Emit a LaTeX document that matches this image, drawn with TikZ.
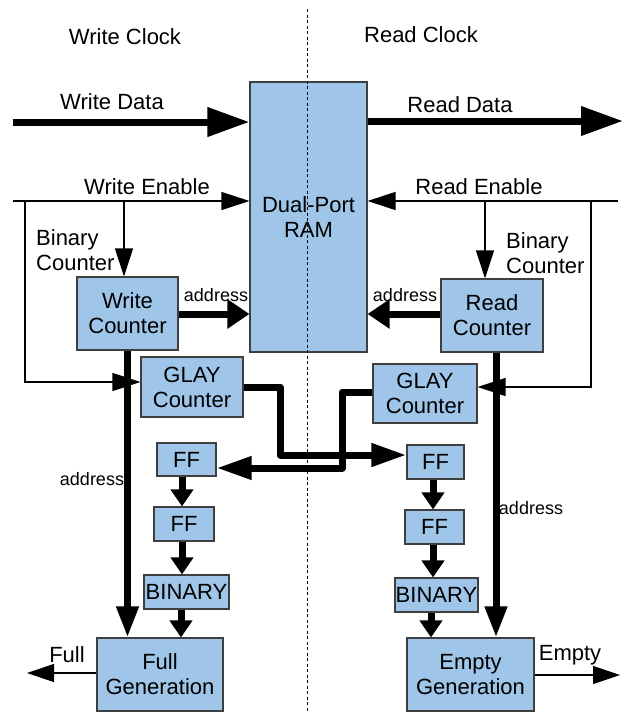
\documentclass[tikz,border=0pt]{standalone}
\usepackage{fontspec}
\setmainfont{Liberation Sans}
\usetikzlibrary{arrows.meta}
\definecolor{boxfill}{HTML}{9FC5E8}
\definecolor{boxline}{HTML}{3F3F3F}
\newcommand{\mainfnt}{\fontsize{22}{25}\selectfont}
\newcommand{\smallfnt}{\fontsize{18}{21}\selectfont}

\begin{document}
\begin{tikzpicture}[x=1pt,y=-1pt,
  box/.style={draw=boxline, fill=boxfill, line width=1.1pt, inner sep=0pt,
              align=center, font=\mainfnt},
  lbl/.style={inner sep=0pt, align=center, font=\mainfnt},
  lblleft/.style={inner sep=0pt, align=left, font=\mainfnt, anchor=west},
  small/.style={inner sep=0pt, font=\smallfnt},
  bus/.style={line width=7pt},
  wire/.style={line width=1.2pt},
  bigtip/.style={-{Triangle[length=42pt,width=28pt]}},
  wiretip/.style={-{Triangle[length=28pt,width=18pt]}},
  addrtip/.style={-{Triangle[length=22pt,width=28pt]}},
  downtip/.style={-{Triangle[length=31pt,width=21pt]}},
  fftip/.style={-{Triangle[length=17pt,width=22pt]}},
  crosstip/.style={-{Triangle[length=35pt,width=22pt]}},
  outtip/.style={-{Triangle[length=27pt,width=18pt]}},
]
\useasboundingbox (0,0) rectangle (624,713);

% ---- blocks ----
\node[box, minimum width=117pt, minimum height=270pt] (ram) at (308.5,217) {Dual-Port\\RAM};
\node[box, minimum width=101pt, minimum height=73pt] (wc) at (127.5,313.5) {Write\\Counter};
\node[box, minimum width=102pt, minimum height=60pt] (gl) at (192,387) {GLAY\\Counter};
\node[box, minimum width=59pt, minimum height=33pt] (ff1l) at (186.5,459.5) {FF};
\node[box, minimum width=60pt, minimum height=34pt] (ff2l) at (184,524) {FF};
\node[box, minimum width=85pt, minimum height=34pt] (binl) at (186.5,592) {BINARY};
\node[box, minimum width=126pt, minimum height=73pt] (full) at (160,674.5) {Full\\Generation};

\node[box, minimum width=102pt, minimum height=73pt] (rc) at (492,315.5) {Read\\Counter};
\node[box, minimum width=104pt, minimum height=59pt] (gr) at (425,393.5) {GLAY\\Counter};
\node[box, minimum width=57pt, minimum height=34pt] (ff1r) at (435.5,462) {FF};
\node[box, minimum width=59pt, minimum height=34pt] (ff2r) at (434.5,527) {FF};
\node[box, minimum width=83pt, minimum height=34pt] (binr) at (436.5,595) {BINARY};
\node[box, minimum width=127pt, minimum height=73pt] (empty) at (470.5,674.5) {Empty\\Generation};

% ---- clock domain divider ----
\coordinate (divtop) at (307,9);
\coordinate (divbot) at (307,713);
\draw[dash pattern=on 3pt off 2.5pt, line width=0.8pt] (divtop) -- (divbot);

% ---- free ends and bends ----
\coordinate (wdin) at (13,122);
\coordinate (rdout) at (623,121);
\coordinate (wein) at (13,201);
\coordinate (webr) at (124,201);
\coordinate (weloop) at (25,201);
\coordinate (welow) at (25,382);
\coordinate (rein) at (618,201);
\coordinate (rebr) at (485,201);
\coordinate (reloop) at (591,201);
\coordinate (relow) at (591,387);
\coordinate (fullout) at (27,673);
\coordinate (emptyout) at (620,675);

% ---- data paths ----
\draw[bus, bigtip] (wdin) -- (ram.west |- wdin);
\draw[bus, bigtip] (ram.east |- rdout) -- (rdout);

% ---- enables ----
\draw[wire, wiretip] (wein) -- (ram.west |- wein);
\draw[wire, wiretip] (webr) -- (webr |- wc.north);
\draw[wire, wiretip] (weloop) -- (welow) -- (gl.west |- welow);
\draw[wire, wiretip] (rein) -- (ram.east |- rein);
\draw[wire, wiretip] (rebr) -- (rebr |- rc.north);
\draw[wire, wiretip] (reloop) -- (relow) -- (gr.east |- relow);

% ---- addresses ----
\draw[bus, addrtip] (wc.east |- 0,314) -- (ram.west |- 0,314);
\draw[bus, addrtip] (rc.west |- 0,314) -- (ram.east |- 0,314);
\draw[bus, downtip] (wc.south) -- (wc.south |- full.north);
\draw[bus, downtip] (rc.south -| 496,0) -- (496,0 |- empty.north);

% ---- gray-code crossings ----
\draw[bus, crosstip, line join=round] (gl.east) -- (280,387) -- (280,455) -- (ff1r.west |- 0,455);
\draw[bus, crosstip, line join=round] (gr.west |- 0,392) -- (342,392) -- (342,468) -- (ff1l.east |- 0,468);

% ---- synchronizer chains ----
\draw[bus, fftip] (ff1l.south -| 182,0) -- (182,0 |- ff2l.north);
\draw[bus, fftip] (ff2l.south -| 182,0) -- (182,0 |- binl.north);
\draw[bus, fftip] (binl.south -| 181,0) -- (181,0 |- full.north);
\draw[bus, fftip] (ff1r.south -| 433,0) -- (433,0 |- ff2r.north);
\draw[bus, fftip] (ff2r.south -| 433,0) -- (433,0 |- binr.north);
\draw[bus, fftip] (binr.south -| 431,0) -- (431,0 |- empty.north);

% ---- flags ----
\draw[wire, outtip] (full.west |- fullout) -- (fullout);
\draw[wire, outtip] (empty.east |- emptyout) -- (emptyout);

% ---- labels ----
\node[lbl] (wclk) at (125,37) {Write Clock};
\node[lbl] (rclk) at (421,35) {Read Clock};
\node[lbl] (wdl) at (112,102) {Write Data};
\node[lbl] (rdl) at (460,105) {Read Data};
\node[lbl] (wel) at (147,187) {Write Enable};
\node[lbl] (rel) at (479,187) {Read Enable};
\node[lblleft] (bcl) at (36,250) {Binary\\Counter};
\node[lblleft] (bcr) at (506,253) {Binary\\Counter};
\node[small] (wal) at (216,295) {address};
\node[small] (ral) at (405,295) {address};
\node[small] (wdal) at (92,479) {address};
\node[small] (rdal) at (531,508) {address};
\node[lbl] (fulll) at (67,655) {Full};
\node[lbl] (emptyl) at (570,655) {Empty};
\end{tikzpicture}
\end{document}
